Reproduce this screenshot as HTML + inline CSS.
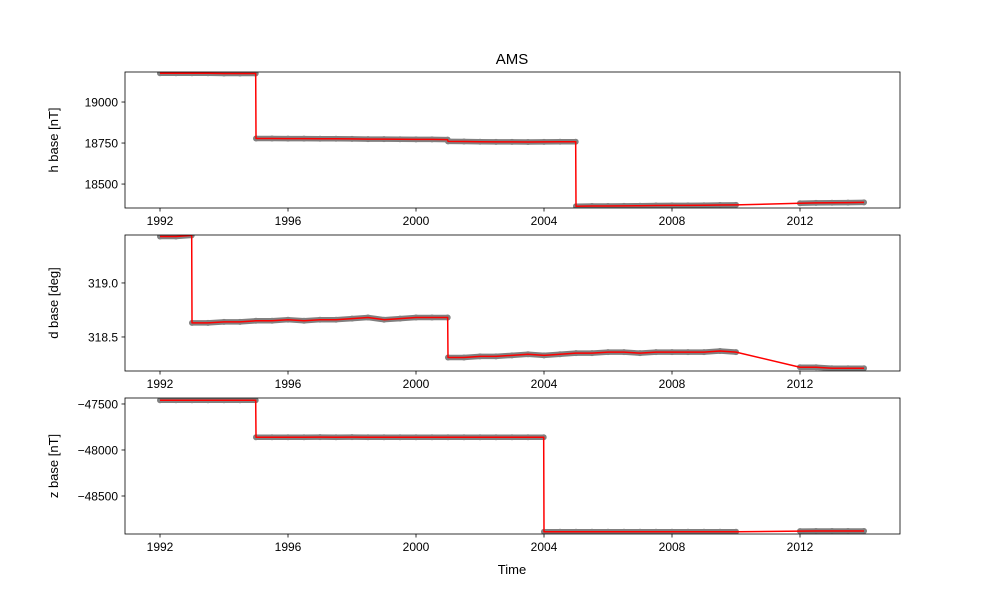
<!DOCTYPE html>
<html><head><meta charset="utf-8"><style>
body{margin:0;background:#fff;}
svg text{font-family:"Liberation Sans","DejaVu Sans",sans-serif;fill:#000;}
</style></head><body>
<svg id="chart" width="1000" height="600" xmlns="http://www.w3.org/2000/svg">
<text x="512" y="64" font-size="15" text-anchor="middle">AMS</text>
<text x="512" y="574" font-size="13" text-anchor="middle">Time</text>
</svg>
<script>
const xTicks = [1992, 1996, 2000, 2004, 2008, 2012];
// h component
const hTimes = [1992,1992.5,1993,1993.5,1994,1994.5,1994.99,
 1995,1995.5,1996,1996.5,1997,1997.5,1998,1998.5,1999,1999.5,2000,2000.5,2000.99,
 2001,2001.5,2002,2002.5,2003,2003.5,2004,2004.5,2004.99,
 2005,2005.5,2006,2006.5,2007,2007.5,2008,2008.5,2009,2009.5,2010,
 2012,2012.5,2013,2013.5,2014];
const hValues = [19175,19175,19175,19175,19174,19174,19174,
 18778,18778,18777,18777,18776,18776,18775,18774,18774,18773,18772,18772,18771,
 18760,18759,18758,18757,18757,18756,18757,18758,18758,
 18365,18366,18366,18367,18368,18369,18370,18370,18371,18372,18373,
 18383,18385,18386,18387,18388];
const hSegments = [7,13,9,11,5];
const hTicks = [18500,18750,19000];
// d component
const dTimes = [1992,1992.5,1992.99,
 1993,1993.5,1994,1994.5,1995,1995.5,1996,1996.5,1997,1997.5,1998,1998.5,1999,1999.5,2000,2000.5,2000.99,
 2001,2001.5,2002,2002.5,2003,2003.5,2004,2004.5,2005,2005.5,2006,2006.5,2007,2007.5,2008,2008.5,2009,2009.5,2010,
 2012,2012.5,2013,2013.5,2014];
const dValues = [319.43,319.43,319.44,
 318.63,318.63,318.64,318.64,318.65,318.65,318.66,318.65,318.66,318.66,318.67,318.68,318.66,318.67,318.68,318.68,318.68,
 318.31,318.31,318.32,318.32,318.33,318.34,318.33,318.34,318.35,318.35,318.36,318.36,318.35,318.36,318.36,318.36,318.36,318.37,318.36,
 318.22,318.22,318.21,318.21,318.21];
const dSegments = [3,17,19,5];
const dTicks = [318.5,319.0];
// z component
const zTimes = [1992,1992.5,1993,1993.5,1994,1994.5,1994.99,
 1995,1995.5,1996,1996.5,1997,1997.5,1998,1998.5,1999,1999.5,2000,2000.5,2001,2001.5,2002,2002.5,2003,2003.5,2003.99,
 2004,2004.5,2005,2005.5,2006,2006.5,2007,2007.5,2008,2008.5,2009,2009.5,2010,
 2012,2012.5,2013,2013.5,2014];
const zValues = [-47460,-47460,-47460,-47460,-47460,-47460,-47460,
 -47862,-47862,-47861,-47862,-47860,-47861,-47860,-47862,-47861,-47862,-47862,-47861,-47862,-47861,-47862,-47861,-47862,-47862,-47862,
 -48888,-48888,-48889,-48889,-48888,-48889,-48888,-48888,-48888,-48888,-48888,-48888,-48888,
 -48882,-48881,-48881,-48881,-48880];
const zSegments = [7,19,13,5];
const zTicks = [-48500,-48000,-47500];

const NS = "http://www.w3.org/2000/svg";
const svg = document.getElementById('chart');
const X0 = 125, X1 = 900, T0 = 1990.906, T1 = 2015.125;
function xScale(t){ return X0 + (t - T0) / (T1 - T0) * (X1 - X0); }
function mk(tag, attrs){ const e = document.createElementNS(NS, tag); for (const k in attrs) e.setAttribute(k, attrs[k]); return e; }

const panels = [
 {name:'h', top:72, bot:208, vmin:18354, vmax:19183, times:hTimes, values:hValues, segs:hSegments, ticks:hTicks, fmt:v=>String(v), label:'h base [nT]'},
 {name:'d', top:235, bot:371, vmin:318.185, vmax:319.444, times:dTimes, values:dValues, segs:dSegments, ticks:dTicks, fmt:v=>v.toFixed(1), label:'d base [deg]'},
 {name:'z', top:398, bot:534, vmin:-48913, vmax:-47435, times:zTimes, values:zValues, segs:zSegments, ticks:zTicks, fmt:v=>String(v).replace('-','\u2212'), label:'z base [nT]'}
];

panels.forEach((p, i) => {
  const yScale = v => p.bot - (v - p.vmin) / (p.vmax - p.vmin) * (p.bot - p.top);
  const g = mk('g', {});
  
  
  svg.appendChild(g);
  const clipId = 'clip' + i;
  const cp = mk('clipPath', {id: clipId});
  cp.appendChild(mk('rect', {x: X0, y: p.top, width: X1 - X0, height: p.bot - p.top}));
  g.appendChild(cp);
  const data = mk('g', {'clip-path': 'url(#' + clipId + ')'});
  g.appendChild(data);
  let idx = 0;
  p.segs.forEach(n => {
    const pts = [];
    for (let k = idx; k < idx + n; k++) pts.push(xScale(p.times[k]).toFixed(2) + ',' + yScale(p.values[k]).toFixed(2));
    const band = mk('polyline', {points: pts.join(' '), fill: 'none', stroke: '#808080', 'stroke-width': 5.5, 'stroke-linecap': 'round', 'stroke-linejoin': 'round'});
    
    
    data.appendChild(band);
    for (let k = idx; k < idx + n; k++) {
      const c = mk('circle', {cx: xScale(p.times[k]), cy: yScale(p.values[k]), r: 3, fill: '#808080'});
      
      
      data.appendChild(c);
    }
    idx += n;
  });
  const all = p.times.map((t, k) => xScale(t).toFixed(2) + ',' + yScale(p.values[k]).toFixed(2));
  const line = mk('polyline', {points: all.join(' '), fill: 'none', stroke: '#ff0000', 'stroke-width': 1.5, 'stroke-linejoin': 'round'});
  
  
  data.appendChild(line);
  const frame = mk('rect', {x: X0, y: p.top, width: X1 - X0, height: p.bot - p.top, fill: 'none', stroke: '#000', 'stroke-width': 0.8});
  
  
  g.appendChild(frame);
  xTicks.forEach(t => {
    const x = xScale(t);
    g.appendChild(mk('line', {x1: x, x2: x, y1: p.bot, y2: p.bot + 3.5, stroke: '#000', 'stroke-width': 0.8}));
    const tx = mk('text', {x: x, y: p.bot + 17, 'font-size': 12, 'text-anchor': 'middle'});
    tx.textContent = t;
    
    
    g.appendChild(tx);
  });
  p.ticks.forEach(v => {
    const y = yScale(v);
    g.appendChild(mk('line', {x1: X0 - 3.5, x2: X0, y1: y, y2: y, stroke: '#000', 'stroke-width': 0.8}));
    const tx = mk('text', {x: X0 - 7, y: y + 4.5, 'font-size': 12, 'text-anchor': 'end'});
    tx.textContent = p.fmt(v);
    
    
    g.appendChild(tx);
  });
  const cy = (p.top + p.bot) / 2;
  const lab = mk('text', {x: 58, y: cy, 'font-size': 13, 'text-anchor': 'middle', transform: 'rotate(-90 58 ' + cy + ')'});
  lab.textContent = p.label;
  
  
  g.appendChild(lab);
});
</script>
</body></html>
